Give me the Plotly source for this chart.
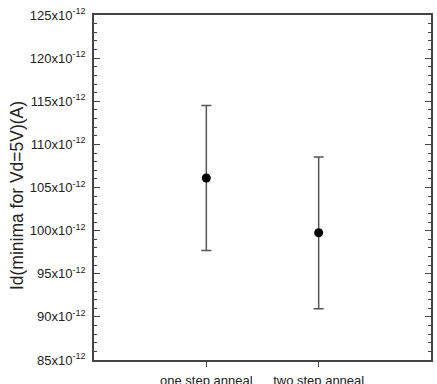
import plotly.graph_objects as go

categories = ["one step anneal", "two step anneal"]
means = [106.1e-12, 99.75e-12]
errors = [8.4e-12, 8.8e-12]
y_tick_vals = [85e-12, 90e-12, 95e-12, 100e-12, 105e-12, 110e-12, 115e-12, 120e-12, 125e-12]
y_tick_text = ["85x10<sup>-12</sup>", "90x10<sup>-12</sup>", "95x10<sup>-12</sup>", "100x10<sup>-12</sup>",
               "105x10<sup>-12</sup>", "110x10<sup>-12</sup>", "115x10<sup>-12</sup>", "120x10<sup>-12</sup>",
               "125x10<sup>-12</sup>"]
y_title = "Id(minima for Vd=5V)(A)"

fig = go.Figure()
fig.add_trace(go.Scatter(
    x=list(range(len(categories))), y=means, mode="markers",
    marker=dict(color="black", size=9),
    error_y=dict(type="data", array=errors, visible=True, color="#555555", thickness=1.5, width=5),
    showlegend=False,
))

axis_color = "#444444"
fig.update_layout(
    width=437, height=384,
    margin=dict(l=94, r=6, t=15, b=24),
    plot_bgcolor="white", paper_bgcolor="white",
    font=dict(family="Liberation Sans, Arial, sans-serif", size=13, color="#222222"),
    xaxis=dict(
        range=[-1, 2], tickvals=list(range(len(categories))), ticktext=categories,
        showgrid=False, zeroline=False, showline=True, linecolor=axis_color, linewidth=1.5,
        mirror=True, ticks="outside", ticklen=5, tickcolor=axis_color, tickfont=dict(size=13),
        ticklabelstandoff=3, automargin=False,
    ),
    yaxis=dict(
        range=[85e-12, 125e-12], tickvals=y_tick_vals, ticktext=y_tick_text,
        showgrid=False, zeroline=False, showline=True, linecolor=axis_color, linewidth=1.5,
        mirror="ticks", ticks="inside", ticklen=6, tickcolor=axis_color,
        minor=dict(ticks="inside", ticklen=3, dtick=1e-12, tickcolor=axis_color, showgrid=False),
        tickfont=dict(size=13), ticklabelstandoff=4, automargin=False,
    ),
    annotations=[dict(
        text=y_title, xref="paper", yref="paper", x=-0.2285, y=0.478,
        xanchor="center", yanchor="middle", textangle=-90, showarrow=False,
        font=dict(size=17.5, color="#222222"),
    )],
)
fig.write_html("out.html")
